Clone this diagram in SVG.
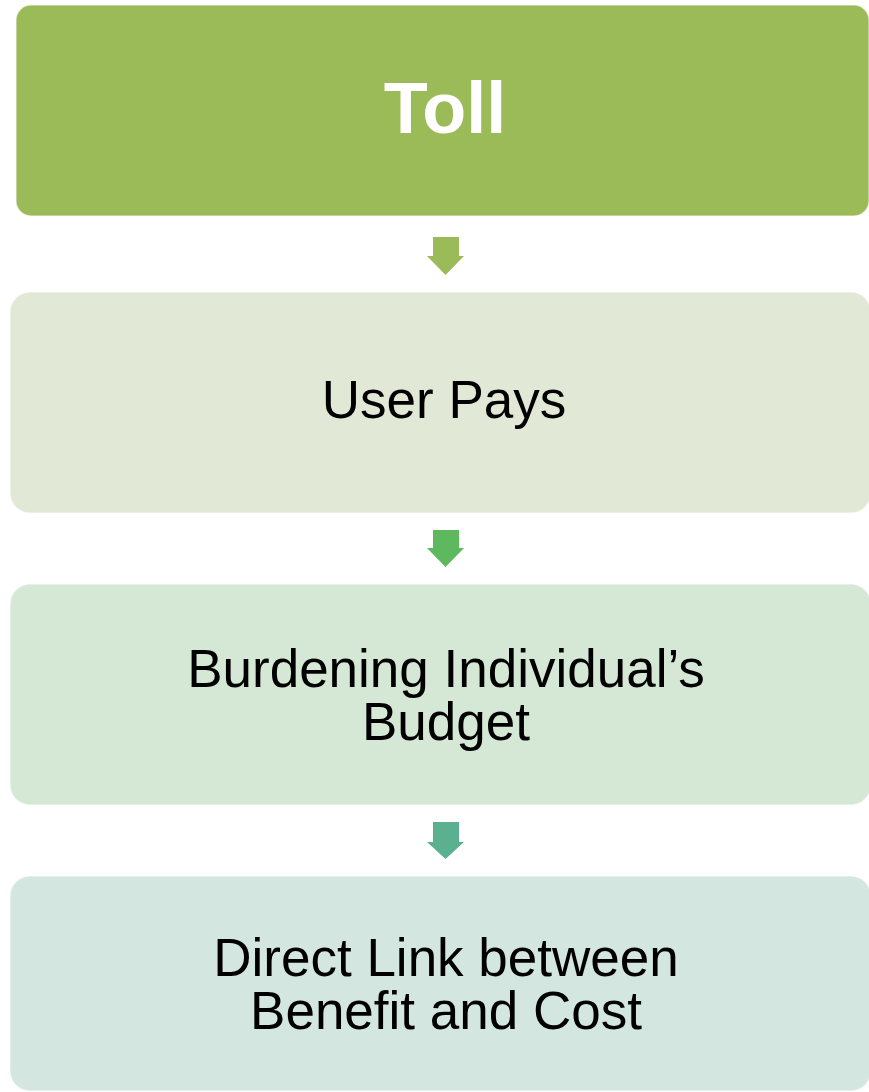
<svg xmlns="http://www.w3.org/2000/svg" width="869" height="1092" viewBox="0 0 869 1092">
<style>
.box{stroke:#ffffff;stroke-opacity:0.5;stroke-width:1.5}
.t{font-family:"Liberation Sans",Arial,sans-serif;font-size:53px;fill:#000000;text-anchor:middle}
.title{font-family:"Liberation Sans",Arial,sans-serif;font-size:72px;font-weight:bold;fill:#ffffff;text-anchor:middle}
</style>
<rect width="869" height="1092" fill="#ffffff"/>
<g id="node-toll">
<rect class="box" x="16" y="5" width="853" height="211" rx="15" fill="#9BBB59"/>
<text class="title" x="445" y="133">Toll</text>
</g>
<g id="node-user-pays">
<rect class="box" x="10" y="292" width="861" height="221" rx="20" fill="#E1E8D5"/>
<text class="t" x="444" y="418">User Pays</text>
</g>
<g id="node-burdening">
<rect class="box" x="10" y="584" width="861" height="221" rx="20" fill="#D5E8D5"/>
<text class="t" x="446" y="687">Burdening Individual’s<tspan x="446" dy="53">Budget</tspan></text>
</g>
<g id="node-direct-link">
<rect class="box" x="10" y="876" width="861" height="215" rx="20" fill="#D4E6E0"/>
<text class="t" x="446" y="976">Direct Link between<tspan x="446" dy="53">Benefit and Cost</tspan></text>
</g>
<g id="connectors">
<polygon points="433,237 459,237 459,256 464,256 445.5,275 427,256 433,256" fill="#9BBB59"/>
<polygon points="433,530 459,530 459,548 464,548 445.5,567 427,548 433,548" fill="#5DB85E"/>
<polygon points="433,822 459,822 459,842 464,842 445.5,859 427,842 433,842" fill="#5BB08F"/>
</g>
</svg>
